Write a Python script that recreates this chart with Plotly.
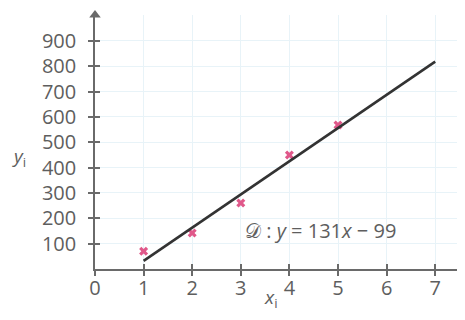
import plotly.graph_objects as go

x_vals = [1, 2, 3, 4, 5]
y_vals = [70, 142, 260, 450, 568]
slope = 131
intercept = -99
line_x = [1, 7]
x_ticks = [0, 1, 2, 3, 4, 5, 6, 7]
y_ticks = [100, 200, 300, 400, 500, 600, 700, 800, 900]

GRAY = "#5e5e5e"
AX = "#6a6a6a"
FONT = "Open Sans"

# page body has an 8px offset
OFF = 8
W, H = 465 - OFF, 320 - OFF
L, R, T, B = 95 - OFF, 3, 15 - OFF, 51
PW, PH = W - L - R, H - T - B
xr = [0, PW / 48.6]
yr = [0, PH / 0.2535]

fig = go.Figure()
fig.add_trace(go.Scatter(x=x_vals, y=y_vals, mode="markers",
                         marker=dict(symbol="x", size=8, color="#e0588a", line=dict(width=0))))
fig.add_trace(go.Scatter(x=line_x, y=[slope * v + intercept for v in line_x], mode="lines",
                         line=dict(color="#333333", width=2.6)))
# axis arrowheads
fig.add_trace(go.Scatter(x=[xr[1]], y=[0], mode="markers", cliponaxis=False, hoverinfo="skip",
                         marker=dict(symbol="triangle-right", size=10, color=AX)))
fig.add_trace(go.Scatter(x=[0], y=[yr[1]], mode="markers", cliponaxis=False, hoverinfo="skip",
                         marker=dict(symbol="triangle-up", size=10, color=AX)))

common = dict(zeroline=False, showline=True, linecolor=AX, linewidth=1.6,
              tickcolor=AX, tickwidth=1.6, automargin=False)

fig.update_layout(
    xaxis=dict(range=xr, tickvals=x_ticks, ticktext=[str(v) for v in x_ticks],
               showgrid=True, gridcolor="#e8f3f8", gridwidth=1,
               ticks="outside", ticklen=5, ticklabelstandoff=-5,
               tickfont=dict(family=FONT, size=20, color=GRAY), **common),
    yaxis=dict(range=yr, tickvals=y_ticks, ticktext=[str(v) for v in y_ticks],
               showgrid=True, gridcolor="#e8f3f8", gridwidth=1,
               ticks="outside", ticklen=5, ticklabelstandoff=8,
               tickfont=dict(family=FONT, size=20, color=GRAY), **common),
    xaxis2=dict(range=xr, overlaying="x", tickvals=x_ticks[1:], showticklabels=False,
                showgrid=False, ticks="inside", ticklen=5, side="bottom", anchor="y", **common),
    yaxis2=dict(range=yr, overlaying="y", tickvals=y_ticks, showticklabels=False,
                showgrid=False, ticks="inside", ticklen=5, side="left", anchor="x", **common),
)
fig.add_trace(go.Scatter(x=[None], y=[None], xaxis="x2", yaxis="y2", showlegend=False))

fig.add_annotation(x=4.63, y=150, xref="x", yref="y", showarrow=False,
                   text="𝒟 : <i>y</i> = 131<i>x</i> − 99",
                   font=dict(family=FONT, size=20, color=GRAY))
fig.add_annotation(text="<i>y</i><sub>i</sub>", xref="paper", yref="paper",
                   x=(10 - 95) / PW, y=(269 - 157) / PH, showarrow=False,
                   font=dict(family=FONT, size=19, color=GRAY))
fig.add_annotation(text="<i>x</i><sub>i</sub>", xref="paper", yref="paper",
                   x=(270 - 95) / PW, y=(269 - 314) / PH, showarrow=False,
                   font=dict(family=FONT, size=19, color=GRAY))

fig.update_layout(width=W, height=H, margin=dict(l=L, r=R, t=T, b=B),
                  paper_bgcolor="white", plot_bgcolor="white", showlegend=False)

fig.write_html("out.html")
